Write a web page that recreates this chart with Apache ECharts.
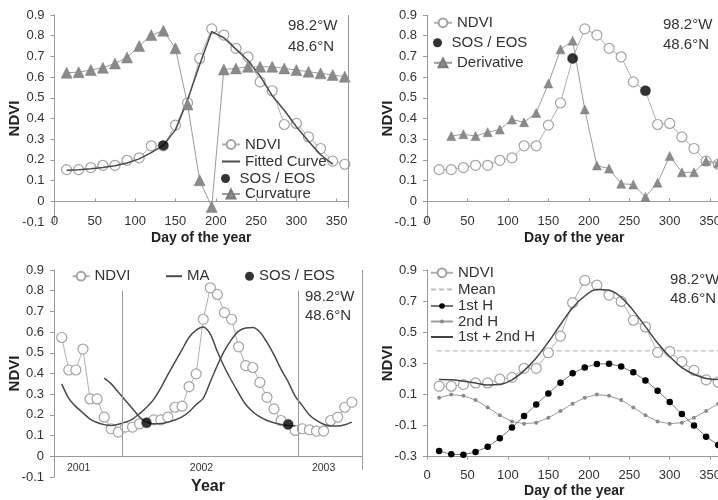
<!DOCTYPE html>
<html><head><meta charset="utf-8">
<script src="https://cdn.jsdelivr.net/npm/echarts@6/dist/echarts.min.js"></script>
<style>html,body{margin:0;padding:0;background:#fff}#c{width:718px;height:500px}</style>
</head><body><div id="c"></div>
<script>
// ---------- data ----------
const days = [15,30,45,60,75,90,105,120,135,150,165,180,195,210,225,240,255,270,285,300,315,330,345,360];
const ndvi = [0.153,0.153,0.163,0.174,0.174,0.198,0.21,0.268,0.268,0.368,0.475,0.69,0.833,0.803,0.739,0.698,0.577,0.534,0.371,0.376,0.311,0.255,0.194,0.179];

const fittedDays = [15,30,45,60,75,90,105,120,135,150,165,180,195,210,225,240,255,270,285,300,315,330,345];
const fitted = [0.15,0.152,0.157,0.163,0.172,0.185,0.205,0.235,0.27,0.345,0.49,0.66,0.82,0.79,0.735,0.68,0.605,0.51,0.44,0.36,0.29,0.225,0.18];
const curvature = [0.621,0.624,0.634,0.645,0.666,0.695,0.75,0.803,0.824,0.739,0.468,0.102,-0.027,0.637,0.642,0.65,0.65,0.65,0.642,0.634,0.626,0.618,0.61,0.602];
const sosDays1 = [135];
const sosValues1 = [0.27];

const derivDays = [30,45,60,75,90,105,120,135,150,165,180,195,210,225,240,255,270,285,300,315,330,345,360];
const derivative = [0.315,0.324,0.315,0.334,0.347,0.395,0.382,0.427,0.569,0.734,0.776,0.444,0.173,0.158,0.085,0.081,0.021,0.09,0.219,0.14,0.14,0.195,0.185];
const sosDays2 = [180,270];
const sosValues2 = [0.69,0.534];

const tsIndex = [0,1,2,3,4,5,6,7,8,9,10,11,12,13,14,15,16,17,18,19,20,21,22,23,24,25,26,27,28,29,30,31,32,33,34,35,36,37,38,39,40,41];
const ndviTS = [0.574,0.417,0.417,0.518,0.277,0.277,0.189,0.133,0.117,0.141,0.141,0.157,0.162,0.176,0.176,0.189,0.237,0.242,0.337,0.398,0.662,0.814,0.782,0.694,0.662,0.529,0.438,0.429,0.357,0.285,0.229,0.173,0.154,0.125,0.133,0.128,0.122,0.122,0.173,0.189,0.237,0.261];
const maForward = [0.35,0.28,0.24,0.21,0.18,0.163,0.153,0.149,0.155,0.165,0.18,0.206,0.237,0.275,0.33,0.395,0.455,0.515,0.575,0.61,0.625,0.59,0.505,0.43,0.365,0.305,0.25,0.215,0.19,0.173,0.162,0.154,0.149,0.146,null,null,null,null,null,null,null,null];
const maBackward = [null,null,null,null,null,null,0.378,0.35,0.31,0.27,0.23,0.19,0.165,0.157,0.158,0.165,0.175,0.19,0.215,0.25,0.28,0.36,0.44,0.51,0.565,0.605,0.62,0.622,0.6,0.55,0.49,0.42,0.36,0.29,0.245,0.2,0.173,0.155,0.146,0.146,0.152,0.165];
const sosIndex3 = [12,32];
const sosValues3 = [0.162,0.154];
const yearLabels = ['2001','2002','2003'];
const yearLabelPos = [2.4,19.75,37.0];
const yearBounds = [8.54,33.4];
const tsMin = -1.09, tsMax = 42.43;

const meanDays = [12,365];
const meanValue = 0.38;
const h1 = [-0.263,-0.285,-0.287,-0.27,-0.236,-0.182,-0.113,-0.039,0.036,0.107,0.176,0.236,0.274,0.296,0.298,0.28,0.242,0.19,0.124,0.051,-0.026,-0.1,-0.171,-0.225];
const h2 = [0.079,0.099,0.092,0.064,0.017,-0.034,-0.073,-0.088,-0.081,-0.05,-0.006,0.041,0.079,0.099,0.092,0.064,0.017,-0.034,-0.073,-0.088,-0.081,-0.05,-0.006,0.041];
const h12 = [0.196,0.194,0.185,0.174,0.161,0.164,0.194,0.253,0.335,0.437,0.55,0.657,0.733,0.775,0.77,0.724,0.639,0.536,0.431,0.343,0.273,0.23,0.203,0.196];

const locationText = ['98.2°W','48.6°N'];
const dayMax = 364;

// ---------- styling helpers ----------
const FONT = 'Liberation Sans, Arial, sans-serif';
const AX = '#9a9a9a';
const TXT = '#333';
const pairs = (xs, ys) => xs.map((x, i) => [x, ys[i]]);
const yFmt = v => Math.abs(v) < 1e-9 ? '0' : v.toFixed(1);
const dayFmt = v => (Math.abs(v % 50) < 1e-6 && v <= 350) ? String(Math.round(v)) : '';
const label = n => n.split('@')[0];
const NOFILL = {color:'rgba(0,0,0,0)', borderColor:'rgba(0,0,0,0)', borderWidth:0};

const ndviStyle = {symbol:'circle', symbolSize:10, itemStyle:{color:'#fff', borderColor:'#a3a3a3', borderWidth:1.2}, lineStyle:{color:'#b0b0b0', width:1}};
const sosStyle = {type:'scatter', symbol:'circle', symbolSize:10, itemStyle:{color:'#000'}};
const frame = (data) => ({silent:true, symbol:['none','none'], label:{show:false}, animation:false,
  lineStyle:{color:AX, type:'solid', width:1}, emphasis:{disabled:true}, data});

function yAxis(g, min, max, interval) {
  return {gridIndex:g, type:'value', min, max, interval,
    axisLine:{show:true, onZero:false, lineStyle:{color:AX}}, axisTick:{show:true, length:4, lineStyle:{color:AX}},
    splitLine:{show:false},
    axisLabel:{fontSize:13, color:TXT, fontFamily:FONT, margin:10, formatter:yFmt, showMinLabel:true, showMaxLabel:true},
    name:'NDVI', nameLocation:'middle', nameRotate:90, nameGap:32, nameMoveOverlap:false,
    nameTextStyle:{fontWeight:'bold', fontSize:15, color:'#222', fontFamily:FONT}};
}
function dayLabelAxis(g, margin, gap, line) {
  return {gridIndex:g, type:'value', min:0, max:dayMax, interval:50, position:'bottom',
    axisLine:{show:line, onZero:false, lineStyle:{color:AX}},
    axisTick:{show:line, length:3, lineStyle:{color:AX}}, splitLine:{show:false},
    axisLabel:{fontSize:13, color:TXT, fontFamily:FONT, margin, formatter:dayFmt, showMaxLabel:false, showMinLabel:true},
    name:'Day of the year', nameLocation:'middle', nameGap:gap, nameMoveOverlap:false,
    nameTextStyle:{fontWeight:'bold', fontSize:14, color:'#222', fontFamily:FONT}};
}
function zeroAxis(g, min, max, ticks) {
  return {gridIndex:g, type:'value', min, max, interval:50, position:'top',
    axisLine:{show:true, onZero:true, lineStyle:{color:AX}},
    axisTick:{show:ticks, length:3, lineStyle:{color:AX}},
    axisLabel:{show:false}, splitLine:{show:false}};
}
function leg(name, left, cy, o) {
  o = o || {};
  const ih = o.ih || 11;
  return {show:true, orient:'vertical', left, top: cy - 8, padding:0,
    itemWidth:o.iw || 18, itemHeight:ih, itemGap:0, selectedMode:false,
    data:[o.itemStyle ? {name, itemStyle:o.itemStyle} : name],
    formatter: label,
    textStyle:{fontSize:15, color:TXT, fontFamily:FONT}};
}
function locText(x, y1, y2) {
  return [y1, y2].map((y, i) => ({type:'text', x, y,
    style:{text:locationText[i], fontSize:15, fontFamily:FONT, fill:TXT, verticalAlign:'middle'}}));
}
const gridBase = {containLabel:false, outerBoundsMode:'none'};

const option = {
  animation:false,
  backgroundColor:'#fff',
  textStyle:{fontFamily:FONT},
  grid:[
    Object.assign({left:54.5, top:15, width:293.5, height:207}, gridBase),
    Object.assign({left:427, top:15, width:294.5, height:207}, gridBase),
    Object.assign({left:54, top:270, width:308, height:207}, gridBase),
    Object.assign({left:427, top:270, width:294.5, height:186.7}, gridBase)
  ],
  xAxis:[
    dayLabelAxis(0, -7, 9, false),
    zeroAxis(0, 0, dayMax, true),
    dayLabelAxis(1, -7, 9, false),
    zeroAxis(1, 0, dayMax, true),
    {gridIndex:2, type:'value', min:tsMin, max:tsMax, position:'bottom',
      axisLine:{show:false, onZero:false}, axisTick:{show:false}, splitLine:{show:false},
      axisLabel:{customValues:yearLabelPos, fontSize:10.5, color:TXT, fontFamily:FONT, margin:-14,
        formatter: v => { const k = yearLabelPos.findIndex(p => Math.abs(p - v) < 1e-6); return k >= 0 ? yearLabels[k] : ''; }},
      name:'Year', nameLocation:'middle', nameGap:2, nameMoveOverlap:false,
      nameTextStyle:{fontWeight:'bold', fontSize:16, color:'#222', fontFamily:FONT}},
    dayLabelAxis(3, 12, 27, true),
    zeroAxis(2, tsMin, tsMax, false)
  ],
  yAxis:[
    yAxis(0, -0.1, 0.9, 0.1),
    yAxis(1, -0.1, 0.9, 0.1),
    yAxis(2, -0.1, 0.9, 0.1),
    yAxis(3, -0.3, 0.9, 0.2)
  ],
  legend:[
    leg('NDVI@1', 221, 145),
    leg('Fitted Curve', 221, 162, {itemStyle:NOFILL}),
    leg('SOS / EOS@1', 221, 179, {ih:9}),
    leg('Curvature', 221, 194.5),
    leg('NDVI@2', 433, 23.3),
    leg('SOS / EOS@2', 433, 43.3, {ih:9}),
    leg('Derivative', 433, 63.3),
    leg('NDVI@3', 71.5, 276.7, {iw:17}),
    leg('MA', 165, 276.7, {iw:16, itemStyle:NOFILL}),
    leg('SOS / EOS@3', 245, 276.7, {iw:9, ih:9}),
    leg('NDVI@4', 430, 273.3, {iw:22}),
    leg('Mean', 430, 290, {iw:22, itemStyle:NOFILL}),
    leg('1st H', 430, 306.5, {iw:22, ih:7}),
    leg('2nd H', 430, 322, {iw:22, ih:5}),
    leg('1st + 2nd H', 430, 337.5, {iw:22, itemStyle:NOFILL})
  ],
  graphic:[].concat(locText(288, 26, 47), locText(663, 25, 45), locText(305, 297, 316), locText(670, 280, 298.5)),
  series:[
    // panel 1
    Object.assign({name:'NDVI@1', type:'line', xAxisIndex:0, yAxisIndex:0, data:pairs(days, ndvi), z:2,
      markLine: frame([[{coord:[dayMax, 0.9]}, {coord:[dayMax, -0.035]}]])}, ndviStyle),
    {name:'Fitted Curve', type:'line', xAxisIndex:0, yAxisIndex:0, data:pairs(fittedDays, fitted), symbol:'none', showSymbol:false,
      lineStyle:{color:'#4a4a4a', width:1.5}, itemStyle:{color:'#4a4a4a'}, z:3},
    {name:'Curvature', type:'line', xAxisIndex:0, yAxisIndex:0, data:pairs(days, curvature), symbol:'triangle', symbolSize:11,
      itemStyle:{color:'#8a8a8a', borderColor:'#7a7a7a', borderWidth:0.5}, lineStyle:{color:'#9c9c9c', width:1}, z:4},
    Object.assign({name:'SOS / EOS@1', xAxisIndex:0, yAxisIndex:0, data:pairs(sosDays1, sosValues1), z:5}, sosStyle),
    // panel 2
    Object.assign({name:'NDVI@2', type:'line', xAxisIndex:2, yAxisIndex:1, data:pairs(days, ndvi), z:2}, ndviStyle),
    {name:'Derivative', type:'line', xAxisIndex:2, yAxisIndex:1, data:pairs(derivDays, derivative), symbol:'triangle', symbolSize:9,
      itemStyle:{color:'#8a8a8a', borderColor:'#7a7a7a', borderWidth:0.5}, lineStyle:{color:'#9c9c9c', width:1}, z:3},
    Object.assign({name:'SOS / EOS@2', xAxisIndex:2, yAxisIndex:1, data:pairs(sosDays2, sosValues2), z:5}, sosStyle),
    // panel 3
    Object.assign({name:'NDVI@3', type:'line', xAxisIndex:4, yAxisIndex:2, data:pairs(tsIndex, ndviTS), z:2,
      markLine: frame([
        [{coord:[yearBounds[0], 0]}, {coord:[yearBounds[0], 0.8]}],
        [{coord:[yearBounds[1], 0]}, {coord:[yearBounds[1], 0.8]}],
        [{coord:[tsMax, 0.9]}, {coord:[tsMax, -0.065]}]
      ])}, ndviStyle),
    {name:'MA', type:'line', xAxisIndex:4, yAxisIndex:2, data:pairs(tsIndex, maForward), symbol:'none', showSymbol:false, smooth:0.3,
      lineStyle:{color:'#4a4a4a', width:1.5}, itemStyle:{color:'#4a4a4a'}, z:3},
    {name:'MA@b', type:'line', xAxisIndex:4, yAxisIndex:2, data:pairs(tsIndex, maBackward), symbol:'none', showSymbol:false, smooth:0.3,
      lineStyle:{color:'#4a4a4a', width:1.5}, itemStyle:{color:'#4a4a4a'}, z:3},
    Object.assign({name:'SOS / EOS@3', xAxisIndex:4, yAxisIndex:2, data:pairs(sosIndex3, sosValues3), z:5}, sosStyle),
    // panel 4
    Object.assign({name:'NDVI@4', type:'line', xAxisIndex:5, yAxisIndex:3, data:pairs(days, ndvi), z:2}, ndviStyle),
    {name:'Mean', type:'line', xAxisIndex:5, yAxisIndex:3, data:meanDays.map(d => [d, meanValue]), symbol:'none', showSymbol:false,
      lineStyle:{color:'#bdbdbd', width:1.2, type:[5,3]}, itemStyle:{color:'#bdbdbd'}, z:1},
    {name:'1st + 2nd H', type:'line', xAxisIndex:5, yAxisIndex:3, data:pairs(days, h12), symbol:'none', showSymbol:false, smooth:0.4,
      lineStyle:{color:'#444', width:1.5}, itemStyle:{color:'#444'}, z:3},
    {name:'2nd H', type:'line', xAxisIndex:5, yAxisIndex:3, data:pairs(days, h2), symbol:'circle', symbolSize:4,
      itemStyle:{color:'#8a8a8a'}, lineStyle:{color:'#9a9a9a', width:1}, z:4},
    {name:'1st H', type:'line', xAxisIndex:5, yAxisIndex:3, data:pairs(days, h1), symbol:'circle', symbolSize:6.5,
      itemStyle:{color:'#000'}, lineStyle:{color:'#777', width:1}, z:5}
  ]
};
const chart = echarts.init(document.getElementById('c'), null, {renderer:'canvas'});
chart.setOption(option);
</script></body></html>
